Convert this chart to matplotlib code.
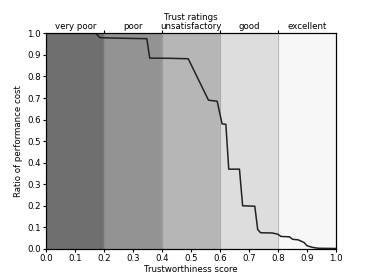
import matplotlib
matplotlib.use("Agg")
import matplotlib.pyplot as plt

# curve
score = [0.0, 0.17, 0.185, 0.23, 0.347, 0.357, 0.43, 0.49, 0.56, 0.59, 0.607,
         0.62, 0.63, 0.667, 0.678, 0.72, 0.73, 0.74, 0.78, 0.80, 0.81, 0.84,
         0.85, 0.87, 0.89, 0.90, 0.92, 0.94, 1.0]
cost = [1.0, 1.0, 0.98, 0.978, 0.975, 0.885, 0.884, 0.882, 0.69, 0.685, 0.58,
        0.578, 0.37, 0.37, 0.2, 0.198, 0.09, 0.075, 0.074, 0.068, 0.058, 0.056,
        0.045, 0.042, 0.03, 0.015, 0.007, 0.003, 0.002]

bounds = [0.0, 0.2, 0.4, 0.6, 0.8, 1.0]
ratings = ["very poor", "poor", "unsatisfactory", "good", "excellent"]
shades = ["#6f6f6f", "#939393", "#b6b6b6", "#dddddd", "#f7f7f7"]

plt.rcParams["font.size"] = 6.2

fig = plt.figure(figsize=(3.74, 2.8), dpi=100)
ax = fig.add_axes([0.124, 0.111, 0.774, 0.77])

for i, c in enumerate(shades):
    ax.axvspan(bounds[i], bounds[i + 1], color=c, zorder=0)
    if 0 < i:
        ax.axvline(bounds[i], color="#888888", lw=0.8, alpha=0.6, zorder=0.5)

ax.plot(score, cost, color="#222222", lw=1.1, zorder=2)

ax.set_xlim(0, 1.0)
ax.set_ylim(0, 1.0)
ax.set_xticks([i / 10 for i in range(11)])
ax.set_yticks([i / 10 for i in range(11)])
ax.set_xlabel("Trustworthiness score", labelpad=1)
ax.set_ylabel("Ratio of performance cost", labelpad=3)
ax.tick_params(length=2.5, pad=1.5)

top = ax.twiny()
top.set_xlim(0, 1.0)
top.set_xticks(bounds[1:-1])
top.set_xticklabels([])
top.set_xticks([0.1, 0.3, 0.5, 0.7, 0.9], minor=True)
top.set_xticklabels(ratings, minor=True)
top.tick_params(which="major", length=2.5)
top.tick_params(which="minor", length=0, pad=1.5)
top.set_xlabel("Trust ratings", labelpad=1.5)

fig.savefig("out.png", dpi=100)
